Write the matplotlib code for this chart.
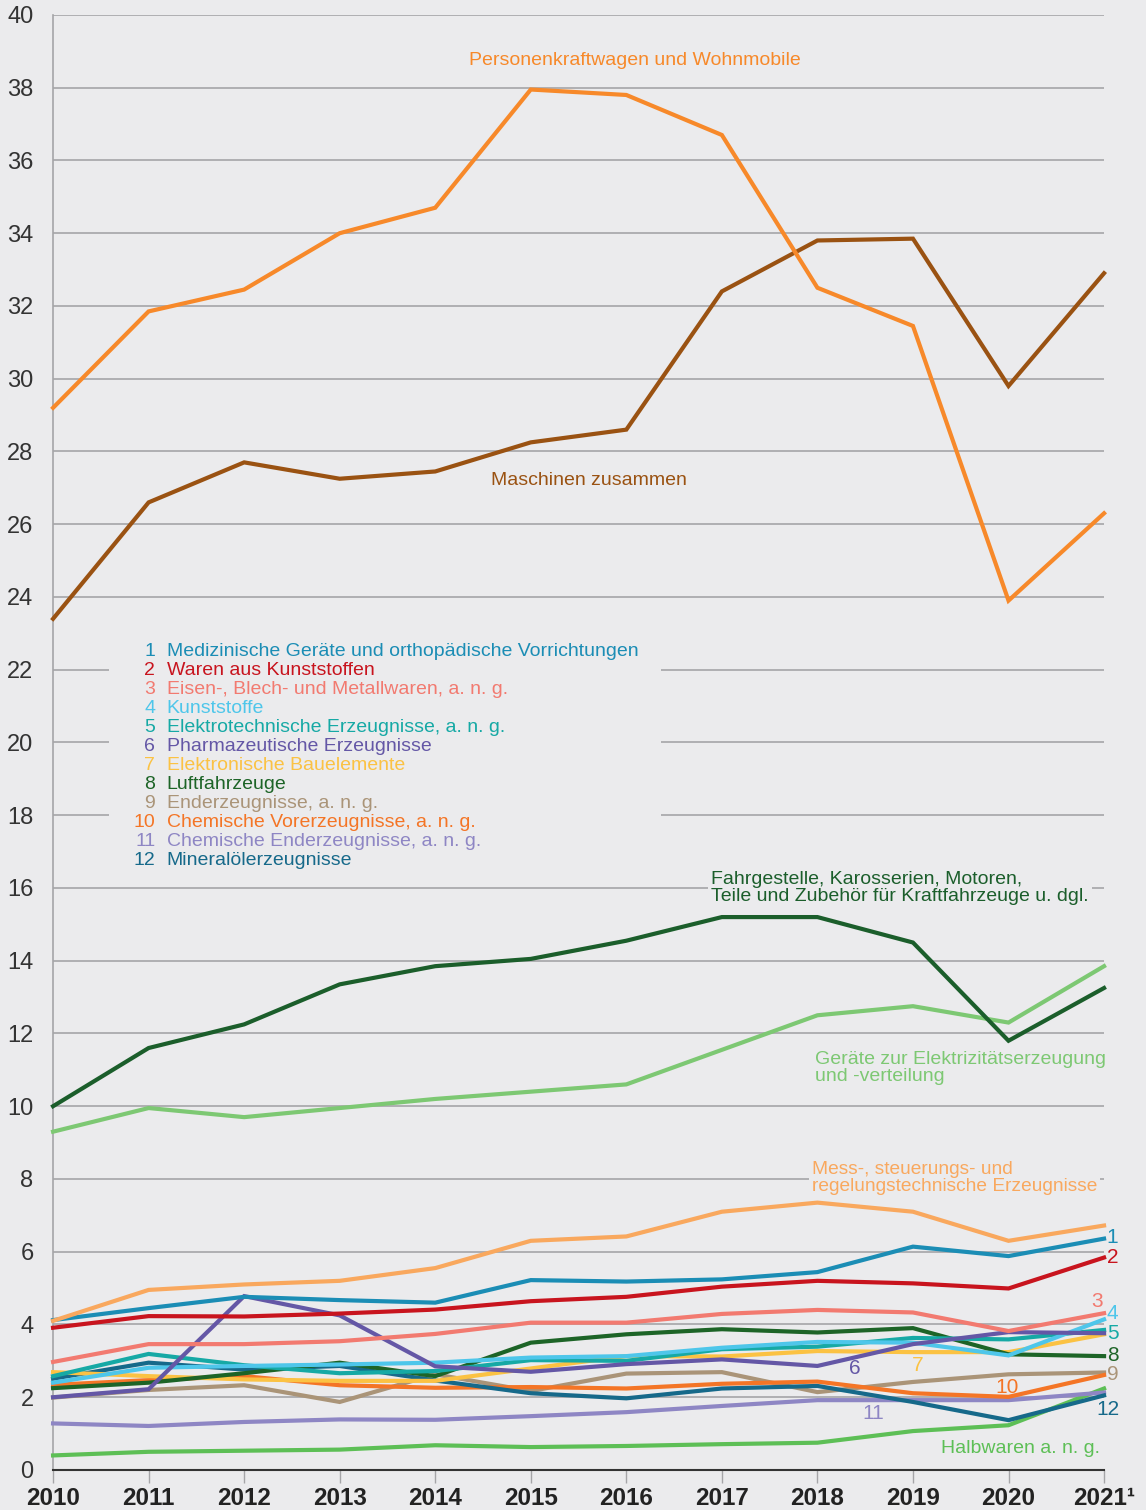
import matplotlib
matplotlib.use("Agg")
import matplotlib.pyplot as plt
from matplotlib.patches import Rectangle

# --- Daten ---
years = list(range(2010, 2022))
year_labels = [str(y) for y in years[:-1]] + ["2021¹"]

pkw = [29.2, 31.85, 32.45, 34.0, 34.7, 37.95, 37.8, 36.7, 32.5, 31.45, 23.9, 26.3]
maschinen = [23.4, 26.6, 27.7, 27.25, 27.45, 28.25, 28.6, 32.4, 33.8, 33.85, 29.8, 32.9]
fahrgestelle = [10.0, 11.6, 12.25, 13.35, 13.85, 14.05, 14.55, 15.2, 15.2, 14.5, 11.8, 13.25]
elektrizitaet = [9.3, 9.95, 9.7, 9.95, 10.2, 10.4, 10.6, 11.55, 12.5, 12.75, 12.3, 13.85]
mess = [4.1, 4.95, 5.1, 5.2, 5.55, 6.3, 6.42, 7.1, 7.35, 7.1, 6.3, 6.72]
halbwaren = [0.4, 0.5, 0.53, 0.56, 0.68, 0.63, 0.66, 0.71, 0.75, 1.07, 1.23, 2.24]

med1 = [4.12, 4.45, 4.76, 4.67, 4.6, 5.22, 5.18, 5.24, 5.44, 6.14, 5.88, 6.36]
kunststoffwaren2 = [3.91, 4.23, 4.22, 4.3, 4.41, 4.64, 4.76, 5.04, 5.2, 5.13, 4.99, 5.84]
eisen3 = [2.97, 3.46, 3.46, 3.54, 3.74, 4.05, 4.05, 4.29, 4.4, 4.33, 3.82, 4.31]
kunststoffe4 = [2.4, 2.81, 2.86, 2.9, 2.95, 3.09, 3.13, 3.36, 3.52, 3.5, 3.15, 4.14]
elektrotech5 = [2.58, 3.19, 2.88, 2.66, 2.72, 3.02, 3.0, 3.32, 3.39, 3.63, 3.59, 3.85]
pharma6 = [2.0, 2.22, 4.78, 4.25, 2.85, 2.7, 2.91, 3.04, 2.86, 3.46, 3.79, 3.76]
bauelemente7 = [2.69, 2.58, 2.49, 2.45, 2.45, 2.79, 3.13, 3.12, 3.27, 3.24, 3.24, 3.73]
luftfahrzeuge8 = [2.25, 2.4, 2.66, 2.95, 2.58, 3.5, 3.73, 3.87, 3.78, 3.9, 3.18, 3.13]
enderz9 = [1.99, 2.2, 2.33, 1.87, 2.63, 2.17, 2.65, 2.69, 2.14, 2.42, 2.63, 2.68]
chemvor10 = [2.34, 2.47, 2.58, 2.33, 2.26, 2.28, 2.24, 2.37, 2.43, 2.11, 2.01, 2.61]
chemend11 = [1.28, 1.21, 1.32, 1.39, 1.38, 1.48, 1.59, 1.76, 1.92, 1.92, 1.92, 2.13]
mineraloel12 = [2.51, 2.95, 2.76, 2.86, 2.46, 2.11, 1.97, 2.24, 2.31, 1.87, 1.37, 2.05]

legend_names = [
    "Medizinische Geräte und orthopädische Vorrichtungen",
    "Waren aus Kunststoffen",
    "Eisen-, Blech- und Metallwaren, a. n. g.",
    "Kunststoffe",
    "Elektrotechnische Erzeugnisse, a. n. g.",
    "Pharmazeutische Erzeugnisse",
    "Elektronische Bauelemente",
    "Luftfahrzeuge",
    "Enderzeugnisse, a. n. g.",
    "Chemische Vorerzeugnisse, a. n. g.",
    "Chemische Enderzeugnisse, a. n. g.",
    "Mineralölerzeugnisse",
]

# --- Stil ---
BG = "#ebebed"
GRID = "#a5a5a8"
FONT = "Liberation Sans"

c_pkw = "#f7892a"
c_masch = "#9a5212"
c_fahr = "#1b5e2b"
c_elek = "#7dc873"
c_mess = "#f9a85e"
c_halb = "#5dbf56"
num_colors = ["#1b8db5", "#c8141e", "#f27a70", "#4ec6ea", "#16a9a5", "#6457a6",
              "#fbc243", "#1d6427", "#aa9478", "#f47526", "#8e86c4", "#16698a"]

plt.rcParams["font.family"] = [FONT, "DejaVu Sans"]

fig = plt.figure(figsize=(11.46, 15.1), dpi=100)
fig.patch.set_facecolor(BG)
ax = fig.add_axes([0.0463, 0.0265, 0.9171, 0.9636])
ax.set_facecolor(BG)

ax.set_xlim(2010, 2021)
ax.set_ylim(0, 40)
ax.set_yticks(range(0, 41, 2))
ax.set_xticks(years)
ax.set_xticklabels(year_labels, fontsize=17.5, fontweight="bold", color="#222222")
ax.tick_params(axis="y", length=0, pad=14, labelsize=17, labelcolor="#333333")
ax.tick_params(axis="x", length=9, width=1, color=GRID, pad=3)
ax.grid(axis="y", color=GRID, lw=1.2, zorder=0)
for s in ("top", "right"):
    ax.spines[s].set_visible(False)
ax.spines["left"].set_color(GRID)
ax.spines["left"].set_linewidth(1.2)
ax.spines["bottom"].set_color("#333333")
ax.spines["bottom"].set_linewidth(1.5)
ax.spines["bottom"].set_zorder(6)

lw = 3.0
kleine = [halbwaren, chemend11, enderz9, chemvor10, mineraloel12, bauelemente7,
          luftfahrzeuge8, elektrotech5, kunststoffe4, pharma6, eisen3,
          kunststoffwaren2, med1]
kleine_col = [c_halb, num_colors[10], num_colors[8], num_colors[9], num_colors[11],
              num_colors[6], num_colors[7], num_colors[4], num_colors[3],
              num_colors[5], num_colors[2], num_colors[1], num_colors[0]]
for vals, col in zip(kleine, kleine_col):
    ax.plot(years, vals, color=col, lw=lw, zorder=3, solid_joinstyle="miter", clip_on=False)

for vals, col in [(mess, c_mess), (elektrizitaet, c_elek), (fahrgestelle, c_fahr),
                  (maschinen, c_masch), (pkw, c_pkw)]:
    ax.plot(years, vals, color=col, lw=lw, zorder=3, solid_joinstyle="miter", clip_on=False)

box = dict(boxstyle="square,pad=0.15", fc=BG, ec="none")
fs = 14

ax.text(2016.09, 38.76, "Personenkraftwagen und Wohnmobile", color=c_pkw,
        fontsize=fs, ha="center", va="center", bbox=box, zorder=5)
ax.text(2014.58, 27.19, "Maschinen zusammen", color=c_masch,
        fontsize=fs, ha="left", va="center", bbox=box, zorder=5)
ax.text(2016.89, 16.0, "Fahrgestelle, Karosserien, Motoren,\nTeile und Zubehör für Kraftfahrzeuge u. dgl.",
        color=c_fahr, fontsize=fs, ha="left", va="center", linespacing=1.0, bbox=box, zorder=5)
ax.text(2017.97, 11.04, "Geräte zur Elektrizitätserzeugung\nund -verteilung",
        color=c_elek, fontsize=fs, ha="left", va="center", linespacing=1.0, bbox=box, zorder=5)
ax.text(2017.94, 8.04, "Mess-, steuerungs- und\nregelungstechnische Erzeugnisse",
        color=c_mess, fontsize=13.8, ha="left", va="center", linespacing=1.0, bbox=box, zorder=5)
ax.text(2020.96, 0.58, "Halbwaren a. n. g.", color=c_halb,
        fontsize=fs, ha="right", va="center", zorder=5)

# Legende mit Hintergrundkasten
ax.add_patch(Rectangle((2010.59, 16.35), 5.77, 6.5, fc=BG, ec="none", zorder=4))
for i, (name, col) in enumerate(zip(legend_names, num_colors)):
    y = 22.49 - i * 0.522
    ax.text(2011.07, y, str(i + 1), color=col, fontsize=fs, ha="right", va="center", zorder=5)
    ax.text(2011.19, y, name, color=col, fontsize=fs, ha="left", va="center", zorder=5)

# Nummern an den Linien
num_pos = [(2021.09, 6.38), (2021.09, 5.83), (2020.93, 4.62), (2021.09, 4.29),
           (2021.09, 3.74), (2018.39, 2.8), (2019.05, 2.86), (2021.09, 3.16),
           (2021.09, 2.62), (2019.99, 2.28), (2018.58, 1.54), (2021.04, 1.65)]
for i, ((x, y), col) in enumerate(zip(num_pos, num_colors)):
    ax.text(x, y, str(i + 1), color=col, fontsize=15, ha="center", va="center", zorder=5)

fig.savefig("out.png", dpi=100, facecolor=BG)
